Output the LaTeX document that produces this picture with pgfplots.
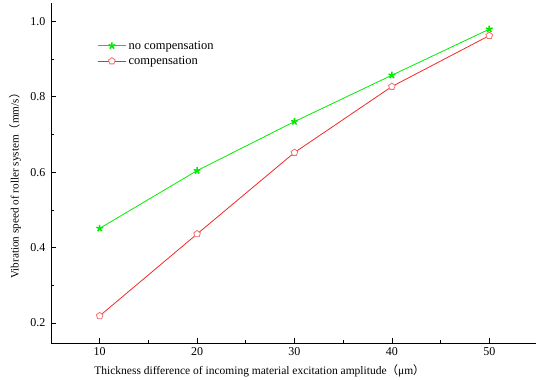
\documentclass[border=0pt]{standalone}
\usepackage{pgfplots}
\pgfplotsset{compat=1.18}
\usepackage{fontspec}
\setmainfont{Liberation Serif}
\newfontfamily\cjk{Noto Sans CJK SC}
\begin{document}
\begin{tikzpicture}
\begin{axis}[
  name=ax,
  scale only axis,
  width=485pt, height=340pt,
  xmin=5, xmax=54.8, ymin=0.147, ymax=1.0485,
  axis lines*=left,
  axis line style={line width=0.9pt},
  xtick={10,20,30,40,50},
  ytick={0.2,0.4,0.6,0.8,1.0},
  minor xtick={15,25,35,45},
  minor ytick={0.3,0.5,0.7,0.9},
  tick align=inside,
  major tick length=5pt, minor tick length=3pt,
  tick style={black, line width=0.7pt},
  /pgf/number format/assume math mode=true,
  /pgf/number format/fixed, /pgf/number format/fixed zerofill, /pgf/number format/precision=1,
  xticklabel style={/pgf/number format/precision=0, yshift=-1pt},
  yticklabel style={xshift=-2pt},
  tick label style={font=\rmfamily\fontsize{12}{14}\selectfont},
  xlabel={Thickness difference of incoming material excitation amplitude{\cjk （}μm{\cjk ）}},
  ylabel={Vibration speed of roller system{\cjk （}mm/s{\cjk ）}},
  label style={font=\rmfamily\fontsize{11.5}{14}\selectfont},
  xlabel style={at={(axis description cs:0.43,-0.083)}, anchor=center},
  ylabel style={at={(axis description cs:-0.074,0.47)}, anchor=center, font=\rmfamily\fontsize{11.2}{14}\selectfont},
  legend style={draw=none, fill=none, at={(0.095,0.895)}, anchor=north west, font=\rmfamily\fontsize{12.5}{15}\selectfont, row sep=1.5pt, inner sep=0pt},
  legend cell align=left,
  legend image code/.code={\draw[mark repeat=2,mark phase=2,#1] plot coordinates {(0cm,0cm) (0.5cm,0cm) (1cm,0cm)};},
]
\addplot[color={rgb,255:red,0;green,235;blue,0}, line width=0.8pt, mark=star, mark size=3.5pt, mark options={line width=1.6pt}] coordinates {
(10,0.451) (20,0.604) (30,0.734) (40,0.857) (50,0.979)};
\addlegendentry{no compensation}
\addplot[color={rgb,255:red,245;green,40;blue,40}, line width=0.8pt, mark=pentagon*, mark size=3.5pt, mark options={fill=white, draw={rgb,255:red,245;green,110;blue,110}}] coordinates {
(10,0.219) (20,0.436) (30,0.652) (40,0.827) (50,0.962)};
\addlegendentry{compensation}
\end{axis}
\pgfresetboundingbox
\path[use as bounding box] ([shift={(-51pt,-37pt)}]ax.south west) rectangle ([shift={(2pt,3pt)}]ax.north east);
\end{tikzpicture}
\end{document}
